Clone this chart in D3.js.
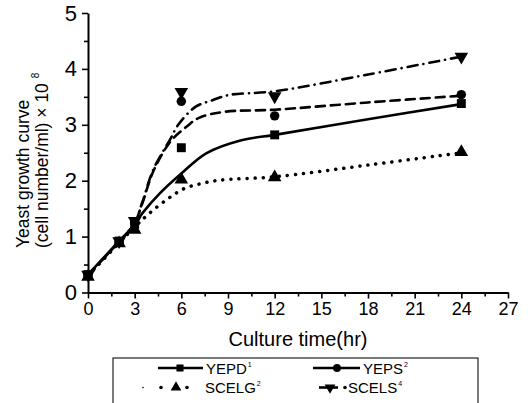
<!DOCTYPE html>
<html>
<head>
<meta charset="utf-8">
<script src="https://cdn.jsdelivr.net/npm/d3@7"></script>
<style>
  body { margin: 0; background: #fff; }
  svg { display: block; font-family: "Liberation Sans", Arial, sans-serif; }
</style>
</head>
<body>
<svg id="chart" width="532" height="403"></svg>
<script>
// measured points (hr, cell number/ml x10^8)
var times = [0, 2, 3, 6, 12, 24];
var yepd  = [0.32, 0.92, 1.22, 2.59, 2.82, 3.38];
var yeps  = [0.30, 0.90, 1.25, 3.42, 3.16, 3.54];
var scelg = [0.28, 0.88, 1.12, 2.02, 2.06, 2.51];
var scels = [0.32, 0.92, 1.28, 3.59, 3.51, 4.22];

// fitted curves
var yepdCurveT  = [0, 1.5, 3, 3.5, 4.6, 6, 7.6, 9.8, 12, 18, 24];
var yepdCurve   = [0.32, 0.77, 1.22, 1.42, 1.77, 2.13, 2.49, 2.72, 2.82, 3.1, 3.37];
var yepsCurveT  = [0, 1.5, 2.5, 3, 3.5, 4.2, 5.3, 6.35, 7.1, 8.7, 12, 18, 24];
var yepsCurve   = [0.3, 0.76, 1.06, 1.24, 1.6, 2.17, 2.7, 2.97, 3.12, 3.23, 3.27, 3.4, 3.52];
var scelgCurveT = [0, 1.5, 3, 4, 5.2, 6.2, 7.3, 8.5, 12, 18, 24];
var scelgCurve  = [0.3, 0.74, 1.17, 1.43, 1.69, 1.86, 1.95, 2.01, 2.07, 2.28, 2.5];
var scelsCurveT = [0, 1.5, 2.5, 3, 3.5, 4.2, 5.3, 5.8, 6.9, 8, 9, 12, 18, 24];
var scelsCurve  = [0.3, 0.76, 1.06, 1.24, 1.62, 2.2, 2.75, 3.0, 3.32, 3.44, 3.53, 3.6, 3.9, 4.22];

var xTicks = [0, 3, 6, 9, 12, 15, 18, 21, 24, 27];
var yTicks = [0, 1, 2, 3, 4, 5];

var series = [
  {name: "YEPD", sup: "1", vals: yepd, ct: yepdCurveT, cv: yepdCurve, dash: null, sym: d3.symbolSquare},
  {name: "YEPS", sup: "2", vals: yeps, ct: yepsCurveT, cv: yepsCurve, dash: "9,6", sym: d3.symbolCircle},
  {name: "SCELG", sup: "2", vals: scelg, ct: scelgCurveT, cv: scelgCurve, dash: "0.1,8", sym: d3.symbolTriangle},
  {name: "SCELS", sup: "4", vals: scels, ct: scelsCurveT, cv: scelsCurve, dash: "10,6,0.1,6", sym: "down"}
];

var svg = d3.select("#chart");
svg.append("rect").attr("width", 532).attr("height", 403).attr("fill", "#fff");

var x = d3.scaleLinear().domain([0, 27]).range([88, 508]);
var y = d3.scaleLinear().domain([0, 5]).range([292.5, 13]);

// axes
var xAxis = svg.append("g").attr("transform", "translate(0,292.5)")
  .call(d3.axisBottom(x).tickValues(d3.range(0, 27.01, 1.5)).tickSize(5).tickSizeOuter(0)
    .tickFormat(d => xTicks.includes(d) ? d : ""));
xAxis.select(".domain").attr("stroke-width", 2);
xAxis.selectAll(".tick line").attr("stroke-width", 1.6)
  .attr("y2", d => xTicks.includes(d) ? 6 : 4);
xAxis.selectAll(".tick text").attr("font-size", 18).attr("font-family", "Liberation Sans, Arial").attr("fill", "#000").attr("dy", "0.8em");

var yAxis = svg.append("g").attr("transform", "translate(88,0)")
  .call(d3.axisLeft(y).tickValues(d3.range(0, 5.01, 0.5)).tickSize(5).tickSizeOuter(0)
    .tickFormat(d => yTicks.includes(d) ? d : ""));
yAxis.select(".domain").attr("stroke-width", 2);
yAxis.selectAll(".tick line").attr("stroke-width", 1.6)
  .attr("x2", d => yTicks.includes(d) ? -6 : -4);
yAxis.selectAll(".tick text").attr("font-size", 22).attr("font-family", "Liberation Sans, Arial").attr("fill", "#000").attr("x", -11);

// axis titles
svg.append("text").attr("x", 298).attr("y", 346).attr("text-anchor", "middle")
  .attr("font-size", 20).text("Culture time(hr)");

var yt = svg.append("g").attr("transform", "translate(0,248) rotate(-90)");
yt.append("text").attr("x", 0).attr("y", 29).attr("font-size", 17.5).text("Yeast growth curve");
var yt2 = yt.append("text").attr("x", 0).attr("y", 48).attr("font-size", 17.5);
yt2.append("tspan").text("(cell number/ml) \u00d7 10 ");
yt2.append("tspan").attr("font-size", 10).attr("dy", -9).text("8");

// curves
var line = d3.line().curve(d3.curveCatmullRom.alpha(0.5));
var lines = svg.append("g").attr("fill", "none").attr("stroke", "#000");
series.forEach(function(s) {
  lines.append("path")
    .attr("d", line(s.ct.map((t, i) => [x(t), y(s.cv[i])])))
    .attr("stroke-width", s.dash && s.dash.startsWith("0.1") ? 3.5 : 2.6)
    .attr("stroke-linecap", "round")
    .attr("stroke-dasharray", s.dash);
});

function symPath(s, size) {
  if (s.sym === "down") return d3.symbol(d3.symbolTriangle, size)();
  return d3.symbol(s.sym, size)();
}
function symTransform(s, px, py) {
  return s.sym === "down" ? `translate(${px},${py}) rotate(180)` : `translate(${px},${py})`;
}

// markers
series.forEach(function(s) {
  svg.append("g").selectAll("path").data(times).join("path")
    .attr("d", symPath(s, s.sym === d3.symbolCircle ? 70 : 80))
    .attr("transform", (t, i) => symTransform(s, x(t), y(s.vals[i])))
    .attr("fill", "#000");
});

// legend
var lg = svg.append("g");
lg.append("rect").attr("x", 113).attr("y", 358).attr("width", 365).attr("height", 46)
  .attr("fill", "none").attr("stroke", "#222").attr("stroke-width", 1.2);

var legItems = [
  {s: series[0], x1: 158, x2: 203, mx: 180, ty: 368, tx: 206},
  {s: series[1], x1: 313, x2: 360, mx: 337, ty: 368, tx: 363},
  {s: series[2], mx: 176, ty: 387.5, tx: 205},
  {s: series[3], x1: 319, x2: 338, mx: 330, ty: 387.5, tx: 348}
];
legItems.forEach(function(d) {
  var s = d.s;
  if (s.name === "SCELG") {
    lg.selectAll(null).data([143, 161, 187]).join("circle")
      .attr("cx", v => v).attr("cy", d.ty).attr("r", v => v === 143 ? 0.8 : 1.8).attr("fill", "#000");
  } else if (s.name === "SCELS") {
    lg.append("line").attr("x1", d.x1).attr("x2", d.x2).attr("y1", d.ty).attr("y2", d.ty)
      .attr("stroke", "#000").attr("stroke-width", 2.6);
    lg.append("circle").attr("cx", 345).attr("cy", d.ty).attr("r", 1.8).attr("fill", "#000");
  } else {
    lg.append("line").attr("x1", d.x1).attr("x2", d.x2).attr("y1", d.ty).attr("y2", d.ty)
      .attr("stroke", "#000").attr("stroke-width", 2.6);
  }
  lg.append("path").attr("d", symPath(s, 50)).attr("transform", symTransform(s, d.mx, d.ty)).attr("fill", "#000");
  var t = lg.append("text").attr("x", d.tx).attr("y", d.ty + 5.5).attr("font-size", 15);
  t.append("tspan").text(s.name);
  t.append("tspan").attr("font-size", 7).attr("dy", -7).attr("dx", 1).text(s.sup);
});
</script>
</body>
</html>
